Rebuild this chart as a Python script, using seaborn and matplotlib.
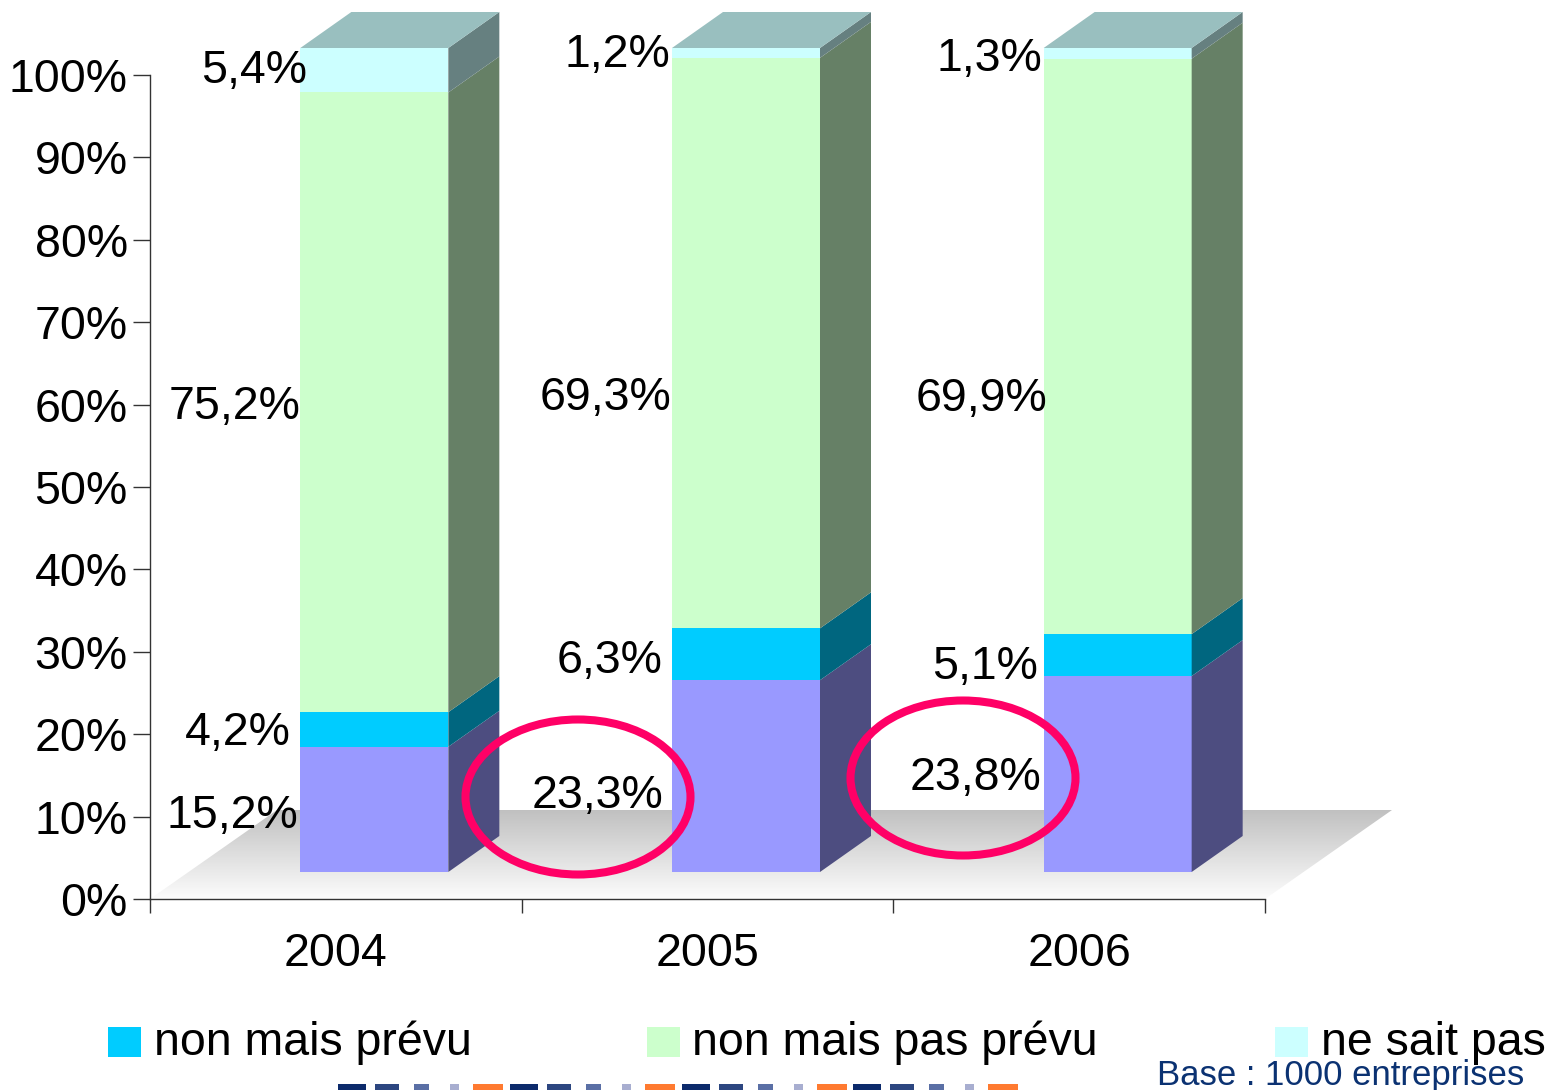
import numpy as np
import pandas as pd
import seaborn as sns
from matplotlib import pyplot as plt
from matplotlib.patches import Ellipse, Polygon, Rectangle
from matplotlib.transforms import Affine2D

annees = ['2004', '2005', '2006']
series = ['oui', 'non mais prévu', 'non mais pas prévu', 'ne sait pas']
oui = [15.2, 23.3, 23.8]
prevu = [4.2, 6.3, 5.1]
pas_prevu = [75.2, 69.3, 69.9]
ne_sait_pas = [5.4, 1.2, 1.3]
etiquettes = [['15,2%', '4,2%', '75,2%', '5,4%'],
              ['23,3%', '6,3%', '69,3%', '1,2%'],
              ['23,8%', '5,1%', '69,9%', '1,3%']]

couleurs = ['#9999ff', '#00ccff', '#ccffcc', '#ccffff']
cotes = ['#4d4d80', '#00667f', '#668066', '#668080']
dessus = '#99bfbf'

W, H = 1548, 1090
sns.set_style('white')
plt.rcParams['font.family'] = ['Liberation Sans', 'DejaVu Sans']

fig = plt.figure(figsize=(W / 100, H / 100), dpi=100)
ax = fig.add_axes([150 / W, 1 - 899 / H, (1265 - 150) / W, (899 - 75) / H])
ax.patch.set_alpha(0)
# coordonnees en pixels, y vers le bas
pix = Affine2D().scale(1, -1).translate(0, H)

cat_w = (1265 - 150) / 3
unit = (899 - 75) / 100
decal_x = 38.5 / cat_w
decal_y = 27 / unit
prof_x = 51 / cat_w
prof_y = 36 / unit
largeur = 148 / cat_w

df = pd.DataFrame({'oui': oui, 'non mais prévu': prevu,
                   'non mais pas prévu': pas_prevu, 'ne sait pas': ne_sait_pas},
                  index=annees)
pct = df.div(df.sum(axis=1), axis=0) * 100
pos = np.arange(len(annees))

# sol gris en degrade
sol_x = 127 / cat_w
sol_y = 89 / unit
sol = Polygon([(-0.5, 0), (2.5, 0), (2.5 + sol_x, sol_y), (-0.5 + sol_x, sol_y)],
              closed=True, transform=ax.transData, fc='none', ec='none')
im = ax.imshow(np.linspace(0, 1, 100).reshape(-1, 1), cmap=sns.blend_palette(['#c0c0c0', '#fcfcfc'], as_cmap=True),
               extent=[-0.5, 2.5 + sol_x, 0, sol_y], aspect='auto', zorder=0.5)
im.set_clip_path(sol)
im.set_clip_box(fig.bbox)

# barres empilees
bas = np.full(len(annees), decal_y)
for i, s in enumerate(series):
    sns.barplot(x=pos + decal_x, y=pct[s].values, bottom=bas, native_scale=True, width=largeur,
                color=couleurs[i], saturation=1, linewidth=0, ax=ax, zorder=2, clip_on=False)
    for p, b, v in zip(pos, bas, pct[s].values):
        x1 = p + decal_x + largeur / 2
        ax.add_patch(Polygon([(x1, b), (x1 + prof_x, b + prof_y), (x1 + prof_x, b + v + prof_y), (x1, b + v)],
                             closed=True, fc=cotes[i], ec='none', zorder=2, clip_on=False))
    bas = bas + pct[s].values

for p, b in zip(pos, bas):
    x0 = p + decal_x - largeur / 2
    x1 = p + decal_x + largeur / 2
    ax.add_patch(Polygon([(x0, b), (x1, b), (x1 + prof_x, b + prof_y), (x0 + prof_x, b + prof_y)],
                         closed=True, fc=dessus, ec='none', zorder=2, clip_on=False))

ax.set_xlim(-0.5, 2.5)
ax.set_ylim(0, 100)
ax.set_xlabel('')
ax.set_ylabel('')
ax.set_yticks(np.arange(0, 101, 10))
ax.set_yticklabels([f'{v}%' for v in range(0, 101, 10)], fontsize=33.5, color='black')
ax.set_xticks([-0.5, 0.5, 1.5, 2.5])
ax.set_xticklabels([])
ax.set_xticks(pos, minor=True)
ax.set_xticklabels(annees, minor=True, fontsize=33.5, color='black')
ax.tick_params(axis='y', left=True, length=12, width=1, color='#333333', pad=4)
ax.tick_params(axis='x', which='major', bottom=True, length=10, width=1, color='#333333')
ax.tick_params(axis='x', which='minor', bottom=False, length=0, pad=24)
sns.despine(ax=ax)
for sp in ['left', 'bottom']:
    ax.spines[sp].set_linewidth(1)
    ax.spines[sp].set_color('#333333')
    ax.spines[sp].set_zorder(1)

# etiquettes de valeurs
pos_etiquettes = [[(232, 816), (238, 733), (235, 407), (254, 71)],
                  [(597, 796), (610, 661), (606, 398), (617, 55)],
                  [(975, 778), (985, 667), (981, 399), (989, 59)]]
for txts, places in zip(etiquettes, pos_etiquettes):
    for t, (px, py) in zip(txts, places):
        ax.text(px, py, t, transform=pix, fontsize=33.5, ha='center', va='center', color='black',
                zorder=6, clip_on=False)

# ellipses roses
for cx, cy in [(578, 797), (963, 778)]:
    ax.add_patch(Ellipse((cx, cy), 225, 155, transform=pix, fc='none', ec='#ff0066', lw=5.8,
                         zorder=5, clip_on=False))

# legende
leg = [(108, 154, 'non mais prévu', '#00ccff'),
       (647, 692, 'non mais pas prévu', '#ccffcc'),
       (1275, 1321, 'ne sait pas', '#ccffff')]
for x0, xt, t, c in leg:
    ax.add_patch(Rectangle((x0, 1027), 33, 30, transform=pix, fc=c, ec='none', clip_on=False))
    ax.text(xt, 1043, t, transform=pix, fontsize=33.5, va='center', ha='left', color='black', clip_on=False)

ax.text(1157, 1075, 'Base : 1000 entreprises', transform=pix, fontsize=25, va='center', ha='left',
        color='#0b3272', clip_on=False, zorder=7)

# frise decorative en bas
frise = [(0, 28, '#0c2a6b'), (37, 61, '#2c4680'), (76, 91, '#5a6fa5'), (112, 121, '#a8aed0'), (135, 165, '#ff7a30')]
for k in range(4):
    for a, b, c in frise:
        ax.add_patch(Rectangle((338 + k * 171.8 + a, 1084), b - a, 8, transform=pix, fc=c, ec='none', clip_on=False))

fig.savefig('out.png', dpi=100)
